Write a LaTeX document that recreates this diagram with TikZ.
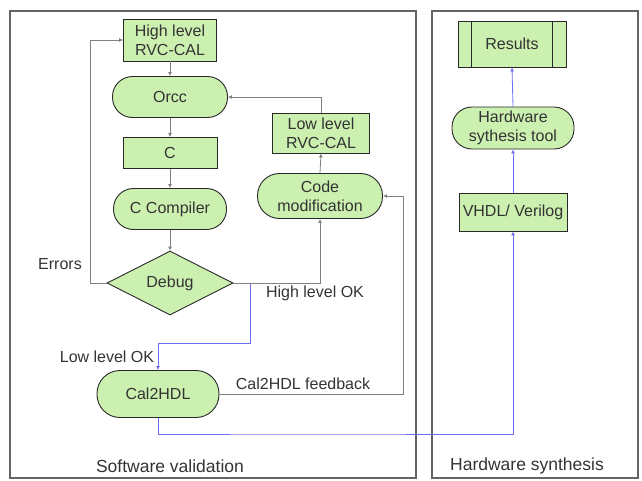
\documentclass[tikz,border=0pt]{standalone}
\usepackage{fontspec}
\setmainfont{Liberation Sans}
\usetikzlibrary{shapes.geometric,arrows.meta,calc}
\definecolor{boxfill}{RGB}{204,240,176}
\definecolor{txt}{RGB}{51,51,51}
\definecolor{edge}{RGB}{40,40,40}
\definecolor{conn}{RGB}{128,128,128}
\definecolor{blueconn}{RGB}{110,110,240}
\definecolor{frame}{RGB}{100,100,100}
\begin{document}
\begin{tikzpicture}[x=1pt,y=-1pt,
  every node/.style={font=\fontsize{16}{19}\selectfont, text=txt, align=center},
  rectbox/.style={draw=edge, line width=0.9pt, fill=boxfill, inner sep=0pt},
  stadium/.style={draw=edge, line width=0.9pt, fill=boxfill, inner sep=0pt, rounded corners=20pt},
  gconn/.style={draw=conn, line width=0.8pt, -{Latex[length=4pt,width=4pt]}},
  bconn/.style={draw=blueconn, line width=0.8pt, -{Latex[length=4pt,width=4pt]}},
  lbl/.style={font=\fontsize{16}{19}\selectfont},
  framelbl/.style={font=\fontsize{17.5}{20}\selectfont}
]
\useasboundingbox (0,0) rectangle (642,480);
% frames
\draw[draw=frame, line width=1.6pt] (10,11) rectangle (416,478);
\draw[draw=frame, line width=1.6pt] (432,11) rectangle (638,478);
\node[framelbl] (swlbl) at (170,466) {Software validation};
\node[framelbl] (hwlbl) at (527,466) {Hardware synthesis};
% software nodes
\node[rectbox, minimum width=93, minimum height=42] (hl) at (170,40) {High level\\RVC-CAL};
\node[stadium, minimum width=115, minimum height=41] (orcc) at (170,97) {Orcc};
\node[rectbox, minimum width=94, minimum height=31] (c) at (170,153) {C};
\node[stadium, minimum width=113, minimum height=41] (cc) at (170,209) {C Compiler};
\node[diamond, draw=edge, line width=0.9pt, fill=boxfill, inner sep=0pt, aspect=2,
      minimum width=126, minimum height=64] (debug) at (170,283) {Debug};
\node[rectbox, minimum width=97, minimum height=40] (low) at (321,133) {Low level\\RVC-CAL};
\node[stadium, minimum width=125, minimum height=45, rounded corners=22pt] (code) at (320,196) {Code\\modification};
\node[stadium, minimum width=122, minimum height=47, rounded corners=23pt] (cal) at (158,394) {Cal2HDL};
% hardware nodes
\node[rectbox, minimum width=108, minimum height=46] (res) at (512,44) {Results};
\draw[edge, line width=0.9pt] ($(res.north west)+(14,0)$) -- ($(res.south west)+(14,0)$);
\draw[edge, line width=0.9pt] ($(res.north east)+(-14,0)$) -- ($(res.south east)+(-14,0)$);
\node[stadium, minimum width=122, minimum height=42] (hw) at (513,128) {Hardware\\sythesis tool};
\node[rectbox, minimum width=108, minimum height=38] (vhdl) at (513,212) {VHDL/ Verilog};
% coordinates
\coordinate (errc) at (90,283);
\coordinate (b0) at (250,283);
\coordinate (b1) at (250,343);
\coordinate (fb) at (403,394);
\coordinate (hb) at (300,434);
% blue connectors
\draw[bconn] (debug.east) -- (b0) -- (b1) -| (cal.north);
\draw[bconn] (cal.south) |- (hb) -| (vhdl.south);
\draw[bconn] (vhdl.north) -- (hw.south);
\draw[bconn] (hw.north) -- (res.south);
% gray connectors
\draw[gconn] (hl.south) -- (orcc.north);
\draw[gconn] (orcc.south) -- (c.north);
\draw[gconn] (c.south) -- (cc.north);
\draw[gconn] (cc.south) -- (debug.north);
\draw[gconn] (debug.west) -- (errc) |- (hl.west);
\draw[gconn] (debug.east) -| (code.south);
\draw[gconn] (code.north) -- (low.south);
\draw[gconn] (low.north) |- (orcc.east);
\draw[gconn] (cal.east) -- (fb) |- (code.east);
% labels
\node[lbl] (errlbl) at (60,264) {Errors};
\node[lbl] (hlok) at (315,293) {High level OK};
\node[lbl] (llok) at (107,357) {Low level OK};
\node[lbl] (fblbl) at (303,384) {Cal2HDL feedback};
\end{tikzpicture}
\end{document}
